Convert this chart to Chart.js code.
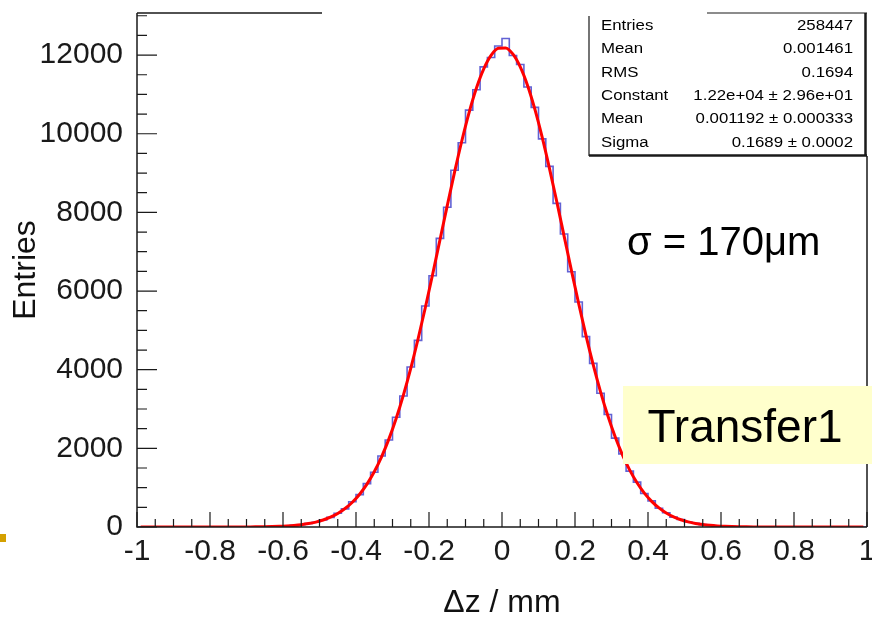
<!DOCTYPE html>
<html>
<head>
<meta charset="utf-8">
<script src="https://cdn.jsdelivr.net/npm/chart.js@4.4.1/dist/chart.umd.min.js"></script>
<style>
    html, body { margin: 0; padding: 0; background: #fff; }
    #wrap { width: 872px; height: 618px; position: relative; }
</style>
</head>
<body>
<div id="wrap"><canvas id="hist"></canvas></div>
<script>
    // histogram: 100 bins of 0.02 from -1 to 1
    var binLow = -1;
    var binWidth = 0.02;
    var counts = [
        0, 0, 0, 0, 0, 0, 0, 0, 0, 0, 0, 0,
        1, 1, 2, 3, 6, 8, 13, 17, 27, 41, 57, 90, 122, 181, 246, 350, 462, 641,
        822, 1102, 1391, 1806, 2211, 2790, 3330, 4070, 4745, 5620, 6390, 7340, 8130, 9070,
        9770, 10600, 11120, 11700, 11940, 12230, 12420, 11990, 11760, 11190, 10670, 9870,
        9170, 8230, 7450, 6490, 5720, 4840, 4160, 3400, 2860, 2260, 1860, 1420, 1140, 850,
        665, 478, 364, 252, 190, 128, 94, 60, 44, 27, 19, 11, 8, 5, 3, 2, 1, 1,
        0, 0, 0, 0, 0, 0, 0, 0, 0, 0, 0, 0
    ];
    // gaussian fit read at the bin centres
    var fitValues = [
        0, 0, 0, 0, 0, 0, 0, 0, 0, 0, 0, 0,
        1, 1, 2, 3, 5, 7, 11, 17, 27, 40, 59, 87, 125, 178, 249, 344, 469, 630,
        834, 1090, 1404, 1784, 2234, 2760, 3361, 4036, 4780, 5582, 6428, 7299, 8172, 9022,
        9822, 10545, 11163, 11652, 11994, 12173, 12183, 12024, 11701, 11229, 10625, 9914,
        9121, 8276, 7404, 6532, 5682, 4873, 4122, 3438, 2828, 2293, 1834, 1446, 1124, 862,
        652, 486, 357, 259, 185, 131, 91, 62, 42, 28, 18, 12, 8, 5, 3, 2, 1, 1,
        0, 0, 0, 0, 0, 0, 0, 0, 0, 0, 0, 0
    ];
    var xTickValues = [-1, -0.8, -0.6, -0.4, -0.2, 0, 0.2, 0.4, 0.6, 0.8, 1];
    var xTickLabels = ['-1', '-0.8', '-0.6', '-0.4', '-0.2', '0', '0.2', '0.4', '0.6', '0.8', '1'];
    var yTickValues = [0, 2000, 4000, 6000, 8000, 10000, 12000];
    var statsLabels = ['Entries', 'Mean', 'RMS', 'Constant', 'Mean', 'Sigma'];
    var statsValues = ['258447', '0.001461', '0.1694', '1.22e+04 \u00b1 2.96e+01', '0.001192 \u00b1 0.000333', '0.1689 \u00b1 0.0002'];

    var FONT = '"Liberation Sans", Arial, Helvetica, sans-serif';
    Chart.defaults.font.family = FONT;

    function histPoints() {
        var pts = [];
        for (var i = 0; i < counts.length; i++) {
            pts.push({ x: binLow + i * binWidth, y: counts[i] });
        }
        pts.push({ x: binLow + counts.length * binWidth, y: counts[counts.length - 1] });
        return pts;
    }

    function fitPoints() {
        return fitValues.map(function (v, i) {
            return { x: binLow + (i + 0.5) * binWidth, y: v };
        });
    }

    // frame, inward ticks, stats box and the slide labels
    var decor = {
        id: 'decor',
        afterDraw: function (chart) {
            var ctx = chart.ctx, a = chart.chartArea;
            var xs = chart.scales.x, ys = chart.scales.y;
            ctx.save();
            ctx.strokeStyle = '#1a1a1a';
            ctx.lineWidth = 1.5;
            ctx.beginPath();
            ctx.moveTo(a.left, a.top); ctx.lineTo(a.left, a.bottom); ctx.lineTo(a.right, a.bottom);
            ctx.moveTo(a.left, a.top); ctx.lineTo(322, a.top);
            ctx.moveTo(a.right, 156); ctx.lineTo(a.right, a.bottom);
            ctx.stroke();

            ctx.lineWidth = 1.2;
            ctx.beginPath();
            for (var k = -20; k <= 20; k++) {
                var px = xs.getPixelForValue(k * 0.05);
                var len = (k % 4 === 0) ? 15 : 8;
                ctx.moveTo(px, a.bottom); ctx.lineTo(px, a.bottom - len);
            }
            for (var v = 0; v <= 13000; v += 500) {
                var py = ys.getPixelForValue(v);
                var l2 = (v % 2000 === 0) ? 20 : 10;
                ctx.moveTo(a.left, py); ctx.lineTo(a.left + l2, py);
            }
            ctx.stroke();

            // stats box
            ctx.fillStyle = '#fff';
            ctx.fillRect(589, 14, 277, 141);
            ctx.strokeStyle = '#1a1a1a';
            ctx.lineWidth = 1.2;
            ctx.beginPath();
            ctx.moveTo(589, 16); ctx.lineTo(589, 156);
            ctx.moveTo(707, a.top); ctx.lineTo(867, a.top);
            ctx.stroke();
            ctx.lineWidth = 2.5;
            ctx.beginPath();
            ctx.moveTo(589, 155.5); ctx.lineTo(867, 155.5);
            ctx.moveTo(865.5, a.top); ctx.lineTo(865.5, 156);
            ctx.stroke();

            ctx.fillStyle = '#000';
            ctx.textBaseline = 'middle';
            ctx.font = '14px ' + FONT;
            for (var i = 0; i < statsLabels.length; i++) {
                var ry = 26 + i * 23.4;
                ctx.save();
                ctx.translate(601, ry);
                ctx.scale(1.2, 1);
                ctx.textAlign = 'left';
                ctx.fillText(statsLabels[i], 0, 0);
                ctx.restore();
                ctx.save();
                ctx.translate(853, ry);
                ctx.scale(1.2, 1);
                ctx.textAlign = 'right';
                ctx.fillText(statsValues[i], 0, 0);
                ctx.restore();
            }

            // sigma note
            ctx.fillStyle = '#000';
            ctx.textAlign = 'left';
            ctx.textBaseline = 'alphabetic';
            ctx.font = '40px ' + FONT;
            ctx.fillText('\u03c3 = 170\u03bcm', 627, 255);

            // yellow label box
            ctx.fillStyle = '#ffffcc';
            ctx.fillRect(623, 386, 249, 78);
            ctx.fillStyle = '#000';
            ctx.textAlign = 'center';
            ctx.font = '46px ' + FONT;
            ctx.fillText('Transfer1', 745, 442);

            // slide bullet
            ctx.fillStyle = '#d4a000';
            ctx.fillRect(0, 534, 6, 8);
            ctx.restore();
        }
    };

    function generateChart() {
        var ctx = document.getElementById('hist').getContext('2d');
        new Chart(ctx, {
            type: 'line',
            data: {
                datasets: [
                    {
                        label: 'fit',
                        data: fitPoints(),
                        borderColor: '#ff0000',
                        borderWidth: 3,
                        pointRadius: 0,
                        cubicInterpolationMode: 'monotone',
                        fill: false,
                        order: 0
                    },
                    {
                        label: 'dz',
                        data: histPoints(),
                        borderColor: 'rgba(70, 70, 205, 0.85)',
                        borderWidth: 1.6,
                        pointRadius: 0,
                        stepped: true,
                        fill: false,
                        order: 1
                    }
                ]
            },
            options: {
                responsive: true,
                maintainAspectRatio: false,
                animation: false,
                layout: { padding: { top: 13, right: 5, left: 0, bottom: 0 } },
                plugins: { legend: { display: false }, tooltip: { enabled: false } },
                scales: {
                    x: {
                        type: 'linear',
                        min: -1,
                        max: 1,
                        afterBuildTicks: function (s) {
                            s.ticks = xTickValues.map(function (v) { return { value: v }; });
                        },
                        afterFit: function (s) {
                            s.height = 91;
                            s.paddingLeft = 0;
                            s.paddingRight = 0;
                        },
                        ticks: {
                            autoSkip: false,
                            maxRotation: 0,
                            padding: 7,
                            color: '#1a1a1a',
                            font: { size: 30 },
                            callback: function (v, i) { return xTickLabels[i]; }
                        },
                        grid: { display: false, drawTicks: false },
                        border: { display: false },
                        title: {
                            display: true,
                            text: '\u0394z / mm',
                            color: '#111',
                            font: { size: 32, lineHeight: 0.9 },
                            padding: 0
                        }
                    },
                    y: {
                        min: 0,
                        max: 13070,
                        afterBuildTicks: function (s) {
                            s.ticks = yTickValues.map(function (v) { return { value: v }; });
                        },
                        afterFit: function (s) {
                            s.width = 137;
                            s.paddingTop = 0;
                            s.paddingBottom = 0;
                        },
                        ticks: {
                            padding: 14,
                            color: '#1a1a1a',
                            font: { size: 30 },
                            callback: function (v) { return String(v); }
                        },
                        grid: { display: false, drawTicks: false },
                        border: { display: false },
                        title: {
                            display: true,
                            text: 'Entries',
                            color: '#111',
                            font: { size: 32 },
                            padding: { top: 7, bottom: 0 }
                        }
                    }
                }
            },
            plugins: [decor]
        });
    }

    generateChart();
</script>
</body>
</html>
